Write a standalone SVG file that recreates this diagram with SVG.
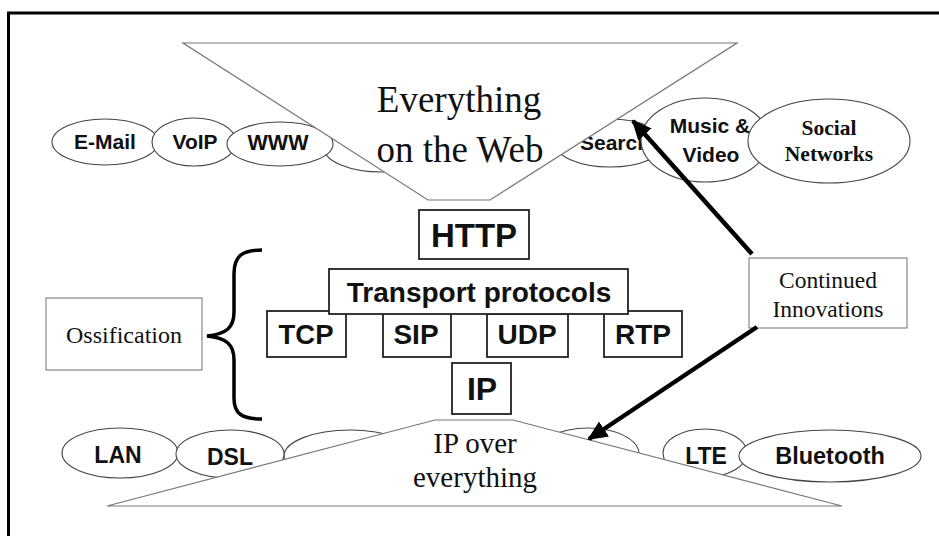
<svg xmlns="http://www.w3.org/2000/svg" width="939" height="536" viewBox="0 0 939 536">
<defs>
<style>
.frame{fill:none;stroke:#000;stroke-width:3}
.trap{fill:#fff;stroke:#777;stroke-width:1.2}
.ell{fill:#fff;stroke:#444;stroke-width:1.1}
.box{fill:#fff;stroke:#222;stroke-width:1.8}
.gbox{fill:#fff;stroke:#888;stroke-width:1.2}
.sb{font-family:"Liberation Sans",Arial,sans-serif;font-weight:bold;fill:#111;text-anchor:middle}
.serif{font-family:"Liberation Serif","Times New Roman",serif;fill:#111;text-anchor:middle}
.conn{stroke:#000;stroke-width:4.5;fill:none}
</style>
<marker id="ah" markerWidth="20" markerHeight="18" refX="18" refY="9" orient="auto" markerUnits="userSpaceOnUse">
<path d="M0,0 L20,9 L0,18 Z" fill="#000"/>
</marker>
</defs>
<rect width="939" height="536" fill="#fff"/>
<rect class="frame" x="8.5" y="13" width="940" height="540"/>

<g id="email"><ellipse class="ell" cx="105" cy="142" rx="53" ry="23"/><text class="sb" x="105" y="149" font-size="21">E-Mail</text></g>
<g id="voip"><ellipse class="ell" cx="194" cy="142" rx="42" ry="24"/><text class="sb" x="195" y="149" font-size="21">VoIP</text></g>
<g id="hidden-top"><ellipse class="ell" cx="382" cy="148" rx="58" ry="24"/></g>
<g id="www"><ellipse class="ell" cx="280" cy="144" rx="53" ry="22"/><text class="sb" x="278" y="150" font-size="21.5">WWW</text></g>
<g id="search"><ellipse class="ell" cx="610" cy="143" rx="55" ry="24"/><text class="sb" x="580" y="150" font-size="21" style="text-anchor:start">Search</text></g>

<g id="web-funnel">
<polygon class="trap" points="183,43 737,43 490,200 428,200"/>
<text class="serif" x="459" y="112" font-size="37">Everything</text>
<text class="serif" x="460" y="162" font-size="37">on the Web</text>
</g>

<g id="music"><ellipse class="ell" cx="705" cy="140" rx="64" ry="42"/><text class="sb" x="710" y="133" font-size="21">Music &amp;</text><text class="sb" x="711" y="162" font-size="21">Video</text></g>
<g id="social"><ellipse class="ell" cx="829" cy="141" rx="81" ry="42"/><text class="serif" x="829" y="135" font-size="21.5" font-weight="bold">Social</text><text class="serif" x="829" y="161" font-size="21.5" font-weight="bold">Networks</text></g>

<g id="http"><rect class="box" x="419" y="210" width="110" height="49"/><text class="sb" x="474" y="247" font-size="33">HTTP</text></g>
<g id="tcp"><rect class="box" x="267" y="311" width="79" height="46"/><text class="sb" x="306" y="344" font-size="27.5">TCP</text></g>
<g id="sip"><rect class="box" x="383" y="311" width="68" height="46"/><text class="sb" x="416" y="344" font-size="28">SIP</text></g>
<g id="udp"><rect class="box" x="487" y="314" width="81" height="43"/><text class="sb" x="527" y="344" font-size="28">UDP</text></g>
<g id="rtp"><rect class="box" x="604" y="311" width="78" height="46"/><text class="sb" x="643" y="344" font-size="28">RTP</text></g>
<g id="transport"><rect class="box" x="329" y="269" width="299" height="45"/><text class="sb" x="479" y="302" font-size="28">Transport protocols</text></g>
<g id="ip"><rect class="box" x="452" y="363" width="59" height="51"/><text class="sb" x="482" y="400" font-size="32">IP</text></g>

<g id="ossification">
<rect class="gbox" x="46" y="298" width="156" height="72"/>
<text class="serif" x="124" y="343" font-size="24">Ossification</text>
<path d="M262,250 C242,250 234,256 234,274 L234,312 C234,328 226,334 207,336 C226,338 234,344 234,360 L234,398 C234,414 242,419 262,419" fill="none" stroke="#000" stroke-width="3.5"/>
</g>

<g id="innovations"><rect class="gbox" x="749" y="258" width="158" height="70"/><text class="serif" x="828" y="288" font-size="23.5">Continued</text><text class="serif" x="828" y="317" font-size="23.5">Innovations</text></g>

<g id="lan"><ellipse class="ell" cx="120" cy="453" rx="58" ry="25"/><text class="sb" x="118" y="463" font-size="23">LAN</text></g>
<g id="hidden-bl"><ellipse class="ell" cx="350" cy="456" rx="66" ry="26"/></g>
<g id="dsl"><ellipse class="ell" cx="230" cy="454" rx="54" ry="24"/></g>
<g id="hidden-br"><ellipse class="ell" cx="588" cy="454" rx="51" ry="26"/></g>
<g id="lte"><ellipse class="ell" cx="705" cy="453" rx="42" ry="24"/></g>
<g id="bluetooth"><ellipse class="ell" cx="830" cy="456" rx="91" ry="26"/><text class="sb" x="830" y="464" font-size="23.5">Bluetooth</text></g>

<g id="ip-funnel">
<polygon class="trap" points="435,420 513,420 842,506 107,506"/>
<text class="serif" x="475" y="453" font-size="29">IP over</text>
<text class="serif" x="475" y="487" font-size="29">everything</text>
</g>
<text class="sb" x="230" y="465" font-size="23">DSL</text>
<text class="sb" x="706" y="464" font-size="23">LTE</text>

<g id="connectors">
<line class="conn" x1="752" y1="254" x2="633" y2="121" marker-end="url(#ah)"/>
<line class="conn" x1="757" y1="327" x2="589" y2="439" marker-end="url(#ah)"/>
</g>
</svg>
